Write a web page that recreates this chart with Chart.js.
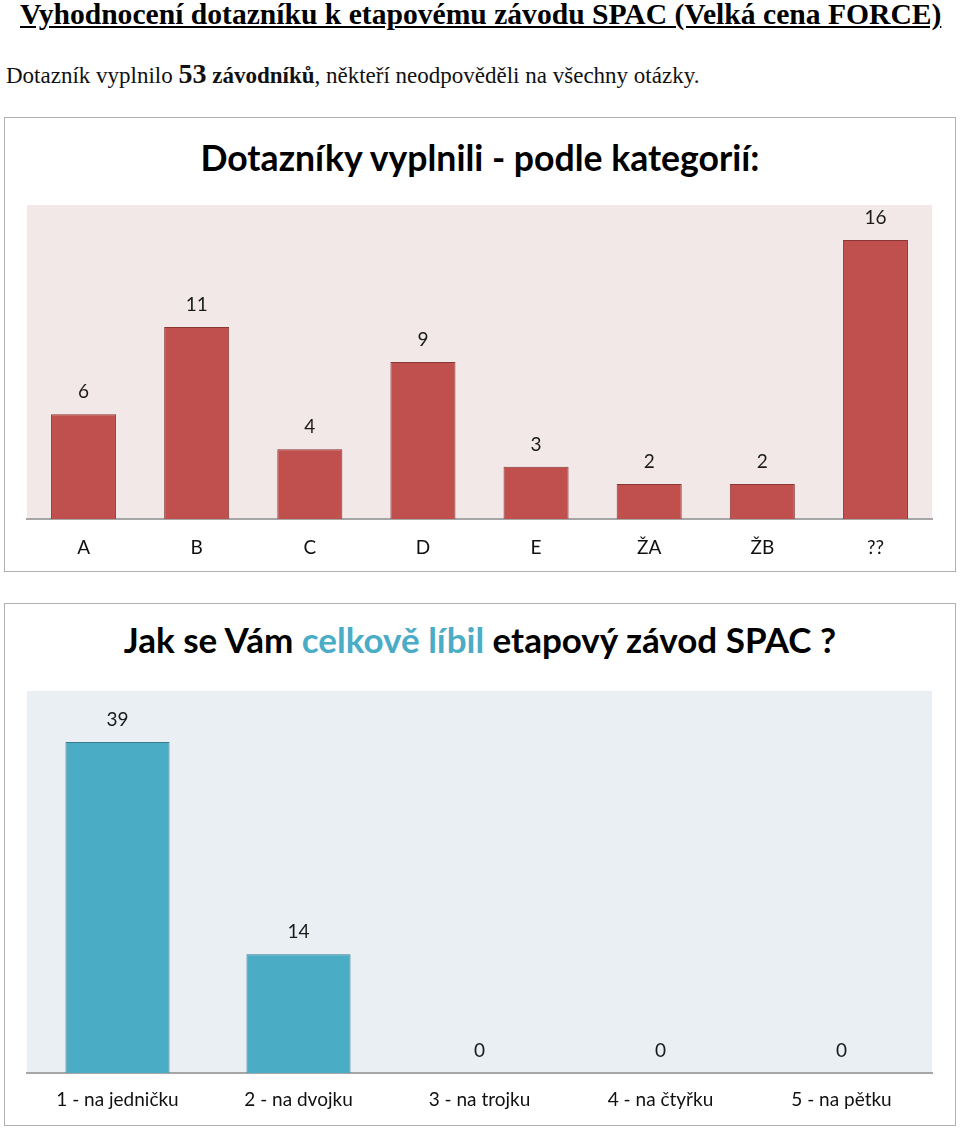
<!DOCTYPE html>
<html><head><meta charset="utf-8">
<script src="https://cdn.jsdelivr.net/npm/chart.js@4.4.1/dist/chart.umd.min.js"></script>
<style>
html,body{margin:0;padding:0;background:#fff;}
body{width:960px;height:1129px;position:relative;overflow:hidden;}
#h1{position:absolute;left:20px;top:-2px;font-family:"Liberation Serif",serif;font-weight:bold;font-size:29.6px;text-decoration:underline;white-space:nowrap;}
#h2{position:absolute;left:6px;top:58px;font-family:"Liberation Serif",serif;font-size:23px;white-space:nowrap;color:#111;}
#h2 .n{font-weight:bold;font-size:28px;}
#h2 .b{font-weight:bold;}
.box{position:absolute;left:4px;width:950px;border:1.5px solid #b0b0b0;background:#fff;}
#box1{top:117px;height:453px;}
#box2{top:603px;height:521px;}
.ct{position:absolute;left:0;width:100%;text-align:center;font-family:Lato,"Open Sans",sans-serif;font-weight:bold;white-space:nowrap;color:#000;}
#t1{top:136px;font-size:35.6px;}
#t2{top:618px;font-size:35px;}
#t2 span{color:#4bacc6;}
canvas{position:absolute;}
</style></head>
<body>
<div id="h1">Vyhodnocení dotazníku k etapovému závodu SPAC (Velká cena FORCE)</div>
<div id="h2">Dotazník vyplnilo <span class="n">53</span> <span class="b">závodníků</span>, někteří neodpověděli na všechny otázky.</div>
<div class="box" id="box1"></div>
<div class="box" id="box2"></div>
<div class="ct" id="t1">Dotazníky vyplnili - podle kategorií:</div>
<div class="ct" id="t2">Jak se Vám <span>celkově líbil</span> etapový závod SPAC ?</div>
<div style="position:absolute;left:4px;top:117px;width:952px;height:455px;"><canvas id="c1"></canvas></div>
<div style="position:absolute;left:4px;top:603px;width:952px;height:523px;"><canvas id="c2"></canvas></div>
<script>
const categories1 = ["A","B","C","D","E","ŽA","ŽB","??"];
const values1 = [6,11,4,9,3,2,2,16];
const categories2 = ["1 - na jedničku","2 - na dvojku","3 - na trojku","4 - na čtyřku","5 - na pětku"];
const values2 = [39,14,0,0,0];

const FONT = 'Lato, "Open Sans", sans-serif';

const bgPlugin = {
  id:'plotBg',
  beforeDraw(chart, args, opts){
    const a = chart.chartArea, ctx = chart.ctx;
    ctx.save(); ctx.fillStyle = opts.color; ctx.fillRect(a.left, a.top, a.right-a.left, a.bottom-a.top); ctx.restore();
  }
};
const labelPlugin = {
  id:'barLabels',
  afterDatasetsDraw(chart){
    const ctx = chart.ctx;
    ctx.save();
    ctx.font = '19px ' + FONT;
    ctx.fillStyle = '#1a1a1a';
    ctx.textAlign = 'center';
    ctx.textBaseline = 'middle';
    chart.getDatasetMeta(0).data.forEach((el,i)=>{
      ctx.fillText(String(chart.data.datasets[0].data[i]), el.x, el.y - 22);
    });
    ctx.restore();
  }
};

function makeChart(id, cats, vals, ymax, color, border, bg, top, pad){
  return new Chart(document.getElementById(id), {
    type:'bar',
    data:{labels:cats, datasets:[{data:vals, backgroundColor:color, borderColor:border, borderWidth:1, categoryPercentage:1, barPercentage:0.575}]},
    options:{
      responsive:true, maintainAspectRatio:false, animation:false,
      layout:{padding:{left:23,right:24,top:top,bottom:0}},
      plugins:{legend:{display:false}, tooltip:{enabled:false}, plotBg:{color:bg}},
      scales:{
        x:{grid:{display:false, drawTicks:false}, border:{display:true, color:'#a6a6a6', width:2},
           ticks:{font:{size:19, family:FONT}, color:'#111', padding:pad},
           afterFit(s){ s.height = 53; }},
        y:{display:false, min:0, max:ymax}
      }
    },
    plugins:[bgPlugin, labelPlugin]
  });
}
makeChart('c1', categories1, values1, 18, '#c0504d', '#8a3634', '#f2e8e8', 88, 17);
makeChart('c2', categories2, values2, 45, '#4bacc6', '#357c90', '#e9eff3', 88, 15);
</script>
</body></html>
